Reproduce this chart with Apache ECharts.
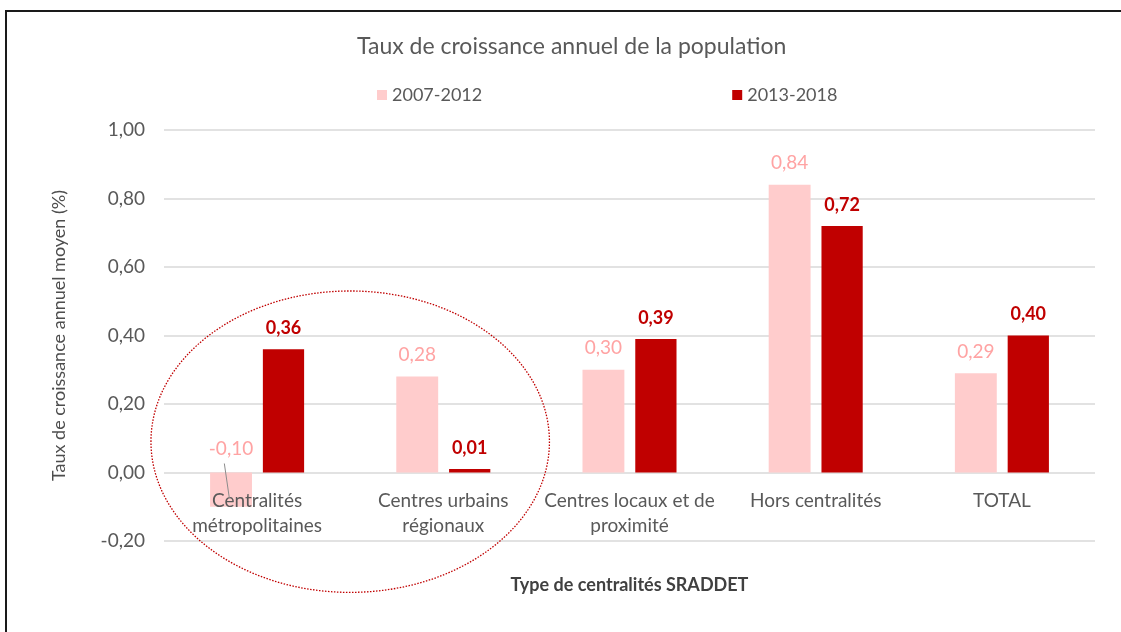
<!DOCTYPE html>
<html lang="fr">
<head>
    <meta charset="UTF-8">
    <title>Taux de croissance annuel de la population</title>
    <script src="https://cdn.jsdelivr.net/npm/echarts@6/dist/echarts.min.js"></script>
    <style>
        html, body { margin: 0; padding: 0; background: #fff; }
        #chart { width: 1121px; height: 632px; }
    </style>
</head>
<body>
<div id="chart"></div>
<script>
    // données
    var categories = ['Centralités\nmétropolitaines', 'Centres urbains\nrégionaux', 'Centres locaux et de\nproximité', 'Hors centralités', 'TOTAL'];
    var seriesNames = ['2007-2012', '2013-2018'];
    var values2007 = [-0.10, 0.28, 0.30, 0.84, 0.29];
    var values2013 = [0.36, 0.01, 0.39, 0.72, 0.40];
    var yMin = -0.2, yMax = 1.0, yStep = 0.2;

    var FONT = 'Lato, "Open Sans", sans-serif';
    var fmt = function (v) {
        return (Math.round(v * 100) / 100).toFixed(2).replace('.', ',');
    };

    var GRID = { left: 164, right: 26, top: 130, bottom: 91 };
    var gridH = 632 - GRID.top - GRID.bottom;
    // l'axe des catégories est remonté au niveau de 0 (étiquettes comprises)
    var zeroOffset = -(0 - yMin) / (yMax - yMin) * gridH;

    var myChart = echarts.init(document.getElementById('chart'));

    // l'étiquette négative est placée au-dessus de l'axe, comme dans Excel
    var data2007 = values2007.map(function (v) {
        return v < 0 ? { value: v, label: { distance: 14 } } : v;
    });

    myChart.setOption({
        backgroundColor: '#ffffff',
        animation: false,
        textStyle: { fontFamily: FONT },
        title: {
            text: 'Taux de croissance annuel de la population',
            left: 352,
            top: 30,
            textStyle: { fontSize: 23, fontWeight: 'normal', color: '#595959', fontFamily: FONT }
        },
        legend: {
            left: 372,
            top: 81,
            itemWidth: 10,
            itemHeight: 10,
            itemGap: 250,
            icon: 'rect',
            data: seriesNames,
            textStyle: { fontSize: 18, color: '#595959', fontFamily: FONT }
        },
        grid: { left: GRID.left, right: GRID.right, top: GRID.top, bottom: GRID.bottom, containLabel: false, outerBoundsMode: 'none' },
        xAxis: {
            type: 'category',
            data: categories,
            offset: zeroOffset,
            z: 5,
            axisLine: { show: false, onZero: false },
            axisTick: { show: false },
            axisLabel: { color: '#595959', fontSize: 19, lineHeight: 25, margin: 16, interval: 0 },
            name: 'Type de centralités SRADDET',
            nameLocation: 'middle',
            nameGap: 104,
            nameTextStyle: { color: '#404040', fontSize: 18, fontWeight: 'bold' }
        },
        yAxis: {
            type: 'value',
            min: yMin,
            max: yMax,
            interval: yStep,
            axisLine: { show: false },
            axisTick: { show: false },
            splitLine: { lineStyle: { color: '#d9d9d9', width: 1.5 } },
            axisLabel: { color: '#595959', fontSize: 19, margin: 19, formatter: fmt },
            name: 'Taux de croissance annuel moyen (%)',
            nameLocation: 'middle',
            nameGap: 96,
            nameTextStyle: { color: '#4d4d4d', fontSize: 18 }
        },
        series: [{
            name: seriesNames[0],
            type: 'bar',
            data: data2007,
            barWidth: '22.5%',
            barGap: '26%',
            itemStyle: { color: '#FFCCCC' },
            label: {
                show: true,
                position: 'top',
                distance: 12,
                color: '#FFA3A3',
                fontSize: 19,
                formatter: function (p) { return fmt(p.value); }
            }
        }, {
            name: seriesNames[1],
            type: 'bar',
            data: values2013,
            itemStyle: { color: '#C00000' },
            label: {
                show: true,
                position: 'top',
                distance: 12,
                color: '#C00000',
                fontSize: 18,
                fontWeight: 'bold',
                formatter: function (p) { return fmt(p.value); }
            }
        }]
    });

    // annotations : ellipse pointillée et trait de rappel de l'étiquette négative
    var p0 = myChart.convertToPixel({ gridIndex: 0 }, [0, 0]);
    var p1 = myChart.convertToPixel({ gridIndex: 0 }, [1, 0]);
    var catW = p1[0] - p0[0];
    var yTop = myChart.convertToPixel({ gridIndex: 0 }, [0, 0.53])[1];
    var yBot = myChart.convertToPixel({ gridIndex: 0 }, [0, -0.35])[1];
    var bar = myChart.getModel().getSeriesByIndex(0).getData().getItemLayout(0);
    var zeroY = p0[1];

    myChart.setOption({
        graphic: [{
            type: 'rect',
            shape: { x: 6, y: 11, width: 1300, height: 800 },
            style: { fill: 'none', stroke: '#1a1a1a', lineWidth: 2 },
            silent: true,
            z: 100
        }, {
            type: 'ellipse',
            shape: { cx: (p0[0] + p1[0]) / 2, cy: (yTop + yBot) / 2, rx: catW * 1.07, ry: (yBot - yTop) / 2 },
            style: { fill: 'none', stroke: '#C00000', lineWidth: 1.3, lineDash: [1.5, 1.5] },
            silent: true,
            z: 100
        }, {
            type: 'line',
            shape: {
                x1: bar.x + bar.width * 0.34, y1: zeroY - 9,
                x2: bar.x + bar.width * 0.46, y2: bar.y + bar.height * 0.75
            },
            style: { stroke: '#8c8c8c', lineWidth: 1 },
            silent: true,
            z: 100
        }]
    });
</script>
</body>
</html>
